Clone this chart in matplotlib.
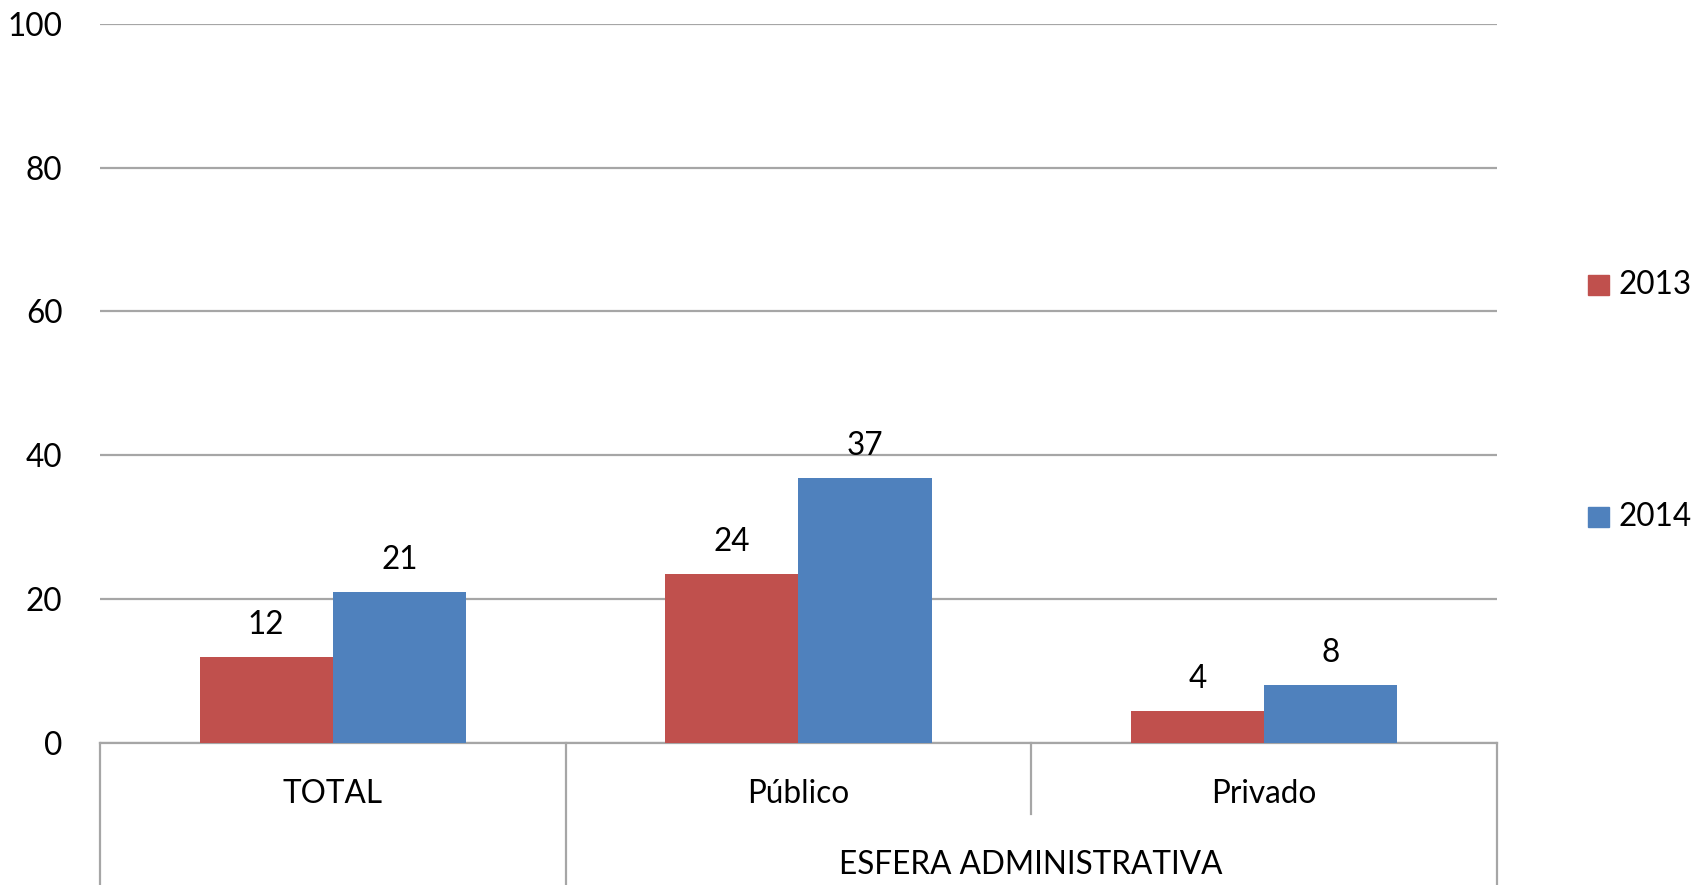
import matplotlib.pyplot as plt
from matplotlib.patches import Rectangle
import numpy as np

# data
categories = ['TOTAL', 'Público', 'Privado']
group_label = 'ESFERA ADMINISTRATIVA'
years = ['2013', '2014']
vals_2013 = [11.9, 23.5, 4.4]
vals_2014 = [20.9, 36.8, 8.0]
shown_2013 = ['12', '24', '4']
shown_2014 = ['21', '37', '8']
yticks = [0, 20, 40, 60, 80, 100]

red = '#C0504D'
blue = '#4F81BD'
grid_c = '#A6A6A6'

plt.rcParams['font.family'] = ['Lato', 'DejaVu Sans']
fs = 22.7

fig = plt.figure(figsize=(16.97, 8.85), dpi=100)
ax = fig.add_axes([0.0589, 0.161, 0.882 - 0.0589, 0.973 - 0.161])

x = np.arange(len(categories))
w = 0.286
b1 = ax.bar(x - w / 2, vals_2013, w, color=red, zorder=3)
b2 = ax.bar(x + w / 2, vals_2014, w, color=blue, zorder=3)

for bars, labels in [(b1, shown_2013), (b2, shown_2014)]:
    for b, lab in zip(bars, labels):
        ax.annotate(lab, (b.get_x() + b.get_width() / 2, b.get_height()),
                    xytext=(0, 23), textcoords='offset points',
                    ha='center', va='center', fontsize=fs)

ax.set_xlim(-0.5, len(categories) - 0.5)
ax.set_ylim(0, 100)
ax.set_yticks(yticks)
ax.tick_params(axis='y', length=0, pad=27, labelsize=fs)
ax.set_xticks([])
ax.yaxis.grid(True, color=grid_c, linewidth=1.6, zorder=0)
for s in ['top', 'right', 'left']:
    ax.spines[s].set_visible(False)
ax.spines['bottom'].set_color(grid_c)
ax.spines['bottom'].set_linewidth(1.6)

# category boxes under the axis
trans = ax.get_xaxis_transform()
bottom = -0.25
for xv, yb in [(-0.5, bottom), (0.5, bottom), (1.5, -0.10), (2.5, bottom)]:
    ax.plot([xv, xv], [0, yb], transform=trans, color=grid_c,
            linewidth=1.6, clip_on=False)
for xi, c in zip(x, categories):
    ax.text(xi, -0.071, c, transform=trans, ha='center', va='center',
            fontsize=fs)
ax.text(1.5, -0.171, group_label, transform=trans, ha='center', va='center',
        fontsize=fs)

# legend
for yc, col, lab in [(0.678, red, years[0]), (0.416, blue, years[1])]:
    fig.patches.append(Rectangle((0.9358, yc - 0.0113), 0.0124, 0.0226,
                                 transform=fig.transFigure, color=col))
    fig.text(0.9535, yc, lab, ha='left', va='center', fontsize=fs)

fig.savefig('out.png', dpi=100)
